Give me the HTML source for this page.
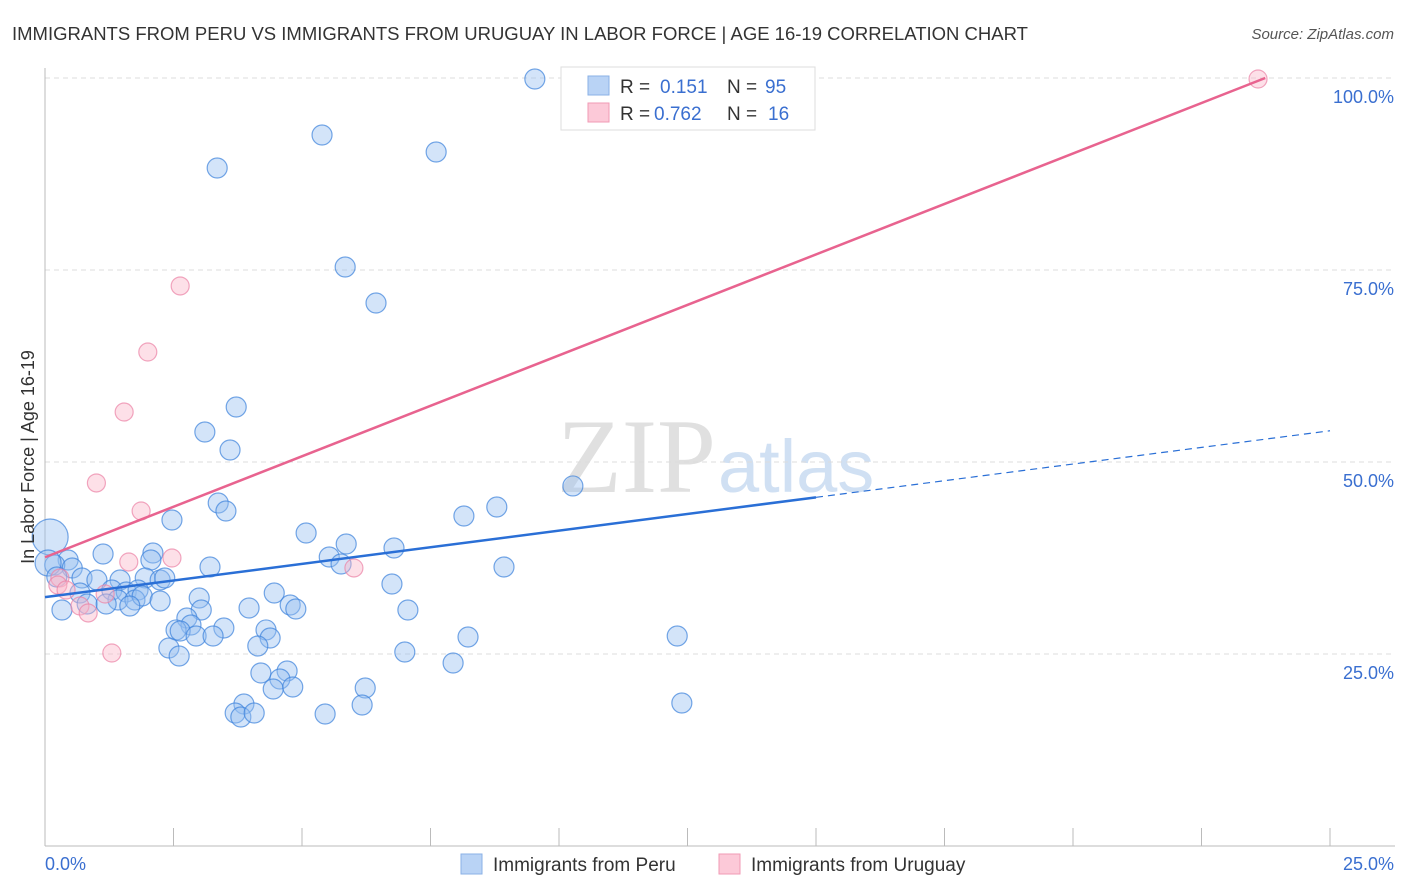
<!DOCTYPE html>
<html><head><meta charset="utf-8"><style>
body{margin:0;background:#fff;font-family:"Liberation Sans",sans-serif;}
svg{display:block}
</style></head><body>
<svg id="c" width="1406" height="892">
<text x="12" y="40" font-size="18.5" fill="#333">IMMIGRANTS FROM PERU VS IMMIGRANTS FROM URUGUAY IN LABOR FORCE | AGE 16-19 CORRELATION CHART</text>
<text x="1394" y="39" font-size="15" fill="#555" font-style="italic" text-anchor="end">Source: ZipAtlas.com</text>
<text x="716" y="492" font-size="106" fill="#e0e0e0" font-family="Liberation Serif,serif" text-anchor="end">ZIP</text>
<text x="718" y="492" font-size="74" fill="#d0e0f3">atlas</text>
<g id="grid"></g><g id="axes"></g><g id="pts"></g><g id="lines"></g>
<text transform="translate(34,457) rotate(-90)" font-size="18" fill="#333" text-anchor="middle">In Labor Force | Age 16-19</text>
<text x="45" y="870" font-size="18" fill="#3a6fd0">0.0%</text>
<text x="1394" y="870" font-size="18" fill="#3a6fd0" text-anchor="end">25.0%</text>
<g>
<rect x="561" y="67" width="254" height="63" fill="#fff" stroke="#ddd"/>
<rect x="588" y="76" width="21" height="19" fill="#b9d3f5" stroke="#8ab0e6"/>
<rect x="588" y="103" width="21" height="19" fill="#fcc9d8" stroke="#f19ab5"/>
<text x="620" y="93" font-size="19" fill="#333">R = <tspan fill="#3a6fd0" x="660">0.151</tspan><tspan x="727" fill="#333">N =</tspan><tspan x="765" fill="#3a6fd0">95</tspan></text>
<text x="620" y="120" font-size="19" fill="#333">R = <tspan fill="#3a6fd0" x="654">0.762</tspan><tspan x="727" fill="#333">N =</tspan><tspan x="768" fill="#3a6fd0">16</tspan></text>
</g>
<g>
<rect x="461" y="854" width="21" height="20" fill="#b9d3f5" stroke="#8ab0e6"/>
<text x="493" y="871" font-size="19" fill="#333">Immigrants from Peru</text>
<rect x="719" y="854" width="21" height="20" fill="#fcc9d8" stroke="#f19ab5"/>
<text x="751" y="871" font-size="19" fill="#333">Immigrants from Uruguay</text>
</g>
</svg>
<script>
const yTicks=[25,50,75,100];
const yTickLabels=["25.0%","50.0%","75.0%","100.0%"];
const peruX=[9.53,5.39,7.61,3.35,5.84,6.44,3.72,3.11,3.60,10.27,3.37,3.52,8.79,8.15,2.47,5.08,5.86,6.79,1.13,2.10,5.53,5.76,2.06,8.93,3.21,0.45,0.19,0.53,0.72,1.01,1.46,1.95,2.24,2.33,6.75,4.46,0.68,1.30,1.58,1.81,1.42,1.75,1.89,2.24,3.00,0.82,1.19,1.65,3.97,4.77,4.88,7.06,3.04,2.76,0.33,2.84,2.55,3.48,4.30,2.63,2.94,3.27,4.38,8.23,12.30,2.41,4.14,2.61,7.00,7.94,4.71,4.20,4.57,4.44,4.82,6.23,3.87,3.70,3.81,4.07,5.45,6.17,12.39,0.10,0.06,0.23];
const peruY=[99.87,92.58,90.36,88.28,75.39,70.70,57.16,53.91,51.56,46.88,44.66,43.62,44.14,42.97,42.45,40.76,39.32,38.80,38.02,38.15,37.63,36.72,37.24,36.33,36.33,37.24,36.59,36.20,34.90,34.64,34.64,34.90,34.64,34.90,34.11,32.94,32.94,33.33,33.07,33.33,32.03,32.03,32.55,31.90,32.29,31.51,31.51,31.25,30.99,31.38,30.86,30.73,30.73,29.69,30.73,28.78,28.13,28.39,28.13,27.99,27.34,27.34,27.08,27.21,27.34,25.78,26.04,24.74,25.26,23.83,22.79,22.53,21.74,20.44,20.70,20.57,18.49,17.32,16.80,17.32,17.19,18.36,18.62,40.23,36.85,35.03];
const peruSize=peruX.map((_,i)=>i===83?18:(i===84?13:10));
const uruX=[23.60,2.63,2.00,1.54,1.00,1.87,2.47,1.63,6.01,0.29,0.25,0.41,0.68,0.84,1.17,1.30];
const uruY=[99.87,72.92,64.32,56.51,47.27,43.62,37.50,36.98,36.20,34.90,33.98,33.33,31.25,30.34,32.81,25.13];
const peruTrend=[32.4,45.4];   // y at x=0 and x=15
const uruTrend=[37.6,100];     // y at x=0 and x=23.74
const X=v=>45+v/25*1285, Y=v=>846-v/25*192;
const NS='http://www.w3.org/2000/svg';
function mk(t,a,p){const e=document.createElementNS(NS,t);for(const k in a)e.setAttribute(k,a[k]);p.appendChild(e);return e;}
const grid=document.getElementById('grid'),axes=document.getElementById('axes'),pts=document.getElementById('pts'),lines=document.getElementById('lines');
yTicks.forEach((t,i)=>{
 const l=mk('line',{x1:45,x2:1395,y1:Y(t),y2:Y(t),stroke:'#ddd','stroke-dasharray':'5,4'},grid);
 
 
 const tx=mk('text',{x:1394,y:Y(t)+25,'font-size':18,fill:'#3a6fd0','text-anchor':'end'},grid);
 tx.textContent=yTickLabels[i];
 
 
});
const ya=mk('line',{x1:45,x2:45,y1:68,y2:846,stroke:'#bbb'},axes);


const xa=mk('line',{x1:45,x2:1395,y1:846,y2:846,stroke:'#bbb'},axes);


for(let i=0;i<=10;i++){const t=mk('line',{x1:X(i*2.5),x2:X(i*2.5),y1:828,y2:846,stroke:'#bbb'},axes);
 
 }
peruX.forEach((v,i)=>{const c=mk('circle',{cx:X(v),cy:Y(peruY[i]),r:peruSize[i],fill:'rgba(150,190,240,0.42)',stroke:'rgba(60,130,220,0.7)','stroke-width':1.2},pts);
 
 });
uruX.forEach((v,i)=>{const c=mk('circle',{cx:X(v),cy:Y(uruY[i]),r:9,fill:'rgba(250,180,200,0.42)',stroke:'rgba(235,130,165,0.7)','stroke-width':1.2},pts);
 
 });
const slope=(peruTrend[1]-peruTrend[0])/15;
const pl=mk('line',{x1:X(0),y1:Y(peruTrend[0]),x2:X(15),y2:Y(peruTrend[1]),stroke:'#2a6fd6','stroke-width':2.5},lines);


const pd=mk('line',{x1:X(15),y1:Y(peruTrend[1]),x2:X(25),y2:Y(peruTrend[0]+slope*25),stroke:'#2a6fd6','stroke-width':1.2,'stroke-dasharray':'7,5'},lines);


const ul=mk('line',{x1:X(0),y1:Y(uruTrend[0]),x2:X(23.74),y2:Y(uruTrend[1]),stroke:'#e8638f','stroke-width':2.5},lines);


</script>
</body></html>
